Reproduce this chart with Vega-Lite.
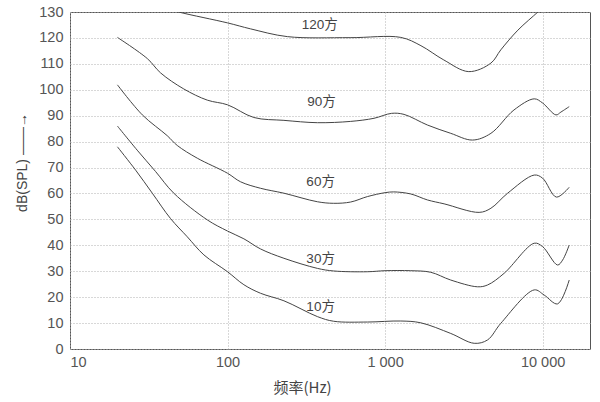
{
  "$schema": "https://vega.github.io/schema/vega-lite/v6.json",
  "autosize": {"type": "none"},
  "padding": {"left": 70, "top": 12, "right": 10, "bottom": 53},
  "width": 520,
  "height": 337,
  "background": "white",
  "config": {
    "view": {"stroke": "#555", "strokeWidth": 1},
    "axis": {
      "labelFont": "Liberation Sans",
      "labelFontSize": 14.5,
      "labelColor": "#555",
      "titleColor": "#444",
      "titleFontWeight": "normal",
      "gridColor": "#b0b0b0",
      "gridDash": [1, 2],
      "gridWidth": 1,
      "domain": false,
      "ticks": false
    }
  },
  "datasets": {
    "curves": [
      {"p": "120", "f": 35, "db": 132.5},
      {"p": "120", "f": 48.9, "db": 130},
      {"p": "120", "f": 100, "db": 125.8},
      {"p": "120", "f": 140, "db": 123.5},
      {"p": "120", "f": 240, "db": 120.5},
      {"p": "120", "f": 600, "db": 120.1},
      {"p": "120", "f": 1259, "db": 120.2},
      {"p": "120", "f": 1690, "db": 117},
      {"p": "120", "f": 2360, "db": 111.5},
      {"p": "120", "f": 3400, "db": 107},
      {"p": "120", "f": 4700, "db": 110.3},
      {"p": "120", "f": 5430, "db": 115.4},
      {"p": "120", "f": 6970, "db": 123},
      {"p": "120", "f": 9330, "db": 130},
      {"p": "120", "f": 10500, "db": 133},

      {"p": "90", "f": 20, "db": 120.2},
      {"p": "90", "f": 31, "db": 112},
      {"p": "90", "f": 37.6, "db": 106.5},
      {"p": "90", "f": 52.8, "db": 100.3},
      {"p": "90", "f": 74.4, "db": 96},
      {"p": "90", "f": 100, "db": 94.2},
      {"p": "90", "f": 147, "db": 89.3},
      {"p": "90", "f": 228, "db": 88.2},
      {"p": "90", "f": 372, "db": 87.3},
      {"p": "90", "f": 605, "db": 87.8},
      {"p": "90", "f": 851, "db": 89},
      {"p": "90", "f": 1100, "db": 90.9},
      {"p": "90", "f": 1320, "db": 90.5},
      {"p": "90", "f": 1858, "db": 86.4},
      {"p": "90", "f": 2612, "db": 83.2},
      {"p": "90", "f": 3590, "db": 80.6},
      {"p": "90", "f": 4700, "db": 83.2},
      {"p": "90", "f": 6580, "db": 92.2},
      {"p": "90", "f": 8850, "db": 96.5},
      {"p": "90", "f": 10000, "db": 94.9},
      {"p": "90", "f": 12160, "db": 90.3},
      {"p": "90", "f": 13070, "db": 91.4},
      {"p": "90", "f": 14760, "db": 93.5},

      {"p": "60", "f": 20, "db": 101.9},
      {"p": "60", "f": 28.8, "db": 90.3},
      {"p": "60", "f": 41.4, "db": 82.3},
      {"p": "60", "f": 48, "db": 78.5},
      {"p": "60", "f": 64.3, "db": 73.6},
      {"p": "60", "f": 100, "db": 67.8},
      {"p": "60", "f": 121, "db": 64.5},
      {"p": "60", "f": 162, "db": 62},
      {"p": "60", "f": 228, "db": 60.1},
      {"p": "60", "f": 372, "db": 56.8},
      {"p": "60", "f": 472, "db": 56.2},
      {"p": "60", "f": 605, "db": 56.7},
      {"p": "60", "f": 773, "db": 58.8},
      {"p": "60", "f": 1000, "db": 60.3},
      {"p": "60", "f": 1135, "db": 60.6},
      {"p": "60", "f": 1457, "db": 59.8},
      {"p": "60", "f": 1858, "db": 57.5},
      {"p": "60", "f": 2370, "db": 56},
      {"p": "60", "f": 3955, "db": 52.7},
      {"p": "60", "f": 4700, "db": 54.3},
      {"p": "60", "f": 6000, "db": 60.1},
      {"p": "60", "f": 8850, "db": 67.1},
      {"p": "60", "f": 10000, "db": 65.9},
      {"p": "60", "f": 12240, "db": 58.6},
      {"p": "60", "f": 14760, "db": 62.4},

      {"p": "30", "f": 20, "db": 86},
      {"p": "30", "f": 26.7, "db": 76.7},
      {"p": "30", "f": 34.9, "db": 68.5},
      {"p": "30", "f": 45.6, "db": 60.1},
      {"p": "30", "f": 74.4, "db": 49.8},
      {"p": "30", "f": 100, "db": 45.5},
      {"p": "30", "f": 127, "db": 42.5},
      {"p": "30", "f": 162, "db": 38.6},
      {"p": "30", "f": 228, "db": 35},
      {"p": "30", "f": 372, "db": 31.1},
      {"p": "30", "f": 472, "db": 30.1},
      {"p": "30", "f": 773, "db": 29.8},
      {"p": "30", "f": 1000, "db": 30.2},
      {"p": "30", "f": 1457, "db": 30.2},
      {"p": "30", "f": 1950, "db": 29.6},
      {"p": "30", "f": 2612, "db": 26.6},
      {"p": "30", "f": 3865, "db": 24},
      {"p": "30", "f": 4475, "db": 24.7},
      {"p": "30", "f": 5700, "db": 29.2},
      {"p": "30", "f": 8850, "db": 40.8},
      {"p": "30", "f": 10000, "db": 39.5},
      {"p": "30", "f": 12450, "db": 32.4},
      {"p": "30", "f": 13400, "db": 34.3},
      {"p": "30", "f": 14760, "db": 40.1},

      {"p": "10", "f": 20, "db": 78},
      {"p": "10", "f": 26.1, "db": 69},
      {"p": "10", "f": 33.3, "db": 60.1},
      {"p": "10", "f": 43.5, "db": 50.3},
      {"p": "10", "f": 55.5, "db": 43.3},
      {"p": "10", "f": 70.8, "db": 36.3},
      {"p": "10", "f": 100, "db": 29.8},
      {"p": "10", "f": 127, "db": 24.8},
      {"p": "10", "f": 162, "db": 21.5},
      {"p": "10", "f": 228, "db": 18.6},
      {"p": "10", "f": 372, "db": 12.5},
      {"p": "10", "f": 472, "db": 10.7},
      {"p": "10", "f": 773, "db": 10.4},
      {"p": "10", "f": 1259, "db": 10.8},
      {"p": "10", "f": 1687, "db": 10.1},
      {"p": "10", "f": 2612, "db": 6},
      {"p": "10", "f": 3680, "db": 2.2},
      {"p": "10", "f": 4475, "db": 3.5},
      {"p": "10", "f": 5430, "db": 9.9},
      {"p": "10", "f": 8850, "db": 22.8},
      {"p": "10", "f": 10240, "db": 20.8},
      {"p": "10", "f": 12450, "db": 17.4},
      {"p": "10", "f": 14760, "db": 26.6}
    ],
    "labels": [
      {"t": "120方", "f": 385, "db": 125},
      {"t": "90方", "f": 395, "db": 95.2},
      {"t": "60方", "f": 390, "db": 64.5},
      {"t": "30方", "f": 390, "db": 34.6},
      {"t": "10方", "f": 390, "db": 16.2}
    ]
  },
  "encoding": {
    "x": {
      "field": "f", "type": "quantitative",
      "scale": {"type": "log", "domain": [10, 20000], "nice": false},
      "axis": {
        "values": [10, 100, 1000, 10000],
        "labelExpr": "datum.value >= 1000 ? replace(format(datum.value, ','), ',', ' ') : datum.label",
        "labelPadding": 6,
        "labelOverlap": false,
        "title": "频率(Hz)",
        "titleFont": "Noto Sans CJK SC",
        "titleFontSize": 15,
        "titleAlign": "center",
        "titleBaseline": "middle",
        "titleAnchor": null,
        "titleX": 232,
        "titleY": 38
      }
    },
    "y": {
      "field": "db", "type": "quantitative",
      "scale": {"domain": [0, 130], "nice": false},
      "axis": {
        "grid": true,
        "values": [0, 10, 20, 30, 40, 50, 60, 70, 80, 90, 100, 110, 120, 130],
        "labelOverlap": false,
        "labelSeparation": 0,
        "labelPadding": 7,
        "labelBaseline": "middle",
        "title": "dB(SPL) ——→",
        "titleFont": "Liberation Sans",
        "titleFontSize": 14,
        "titleAlign": "center",
        "titleBaseline": "middle",
        "titleAngle": 270,
        "titleX": -48,
        "titleY": 150
      }
    }
  },
  "layer": [
    {
      "data": {"name": "curves"},
      "mark": {"type": "line", "color": "#444", "strokeWidth": 1, "clip": true, "interpolate": "catmull-rom"},
      "encoding": {
        "detail": {"field": "p"}
      }
    },
    {
      "data": {"name": "labels"},
      "mark": {"type": "text", "font": "'Liberation Sans', 'Noto Sans CJK SC'", "fontSize": 13.5, "color": "#444"},
      "encoding": {
        "text": {"field": "t"}
      }
    }
  ]
}
